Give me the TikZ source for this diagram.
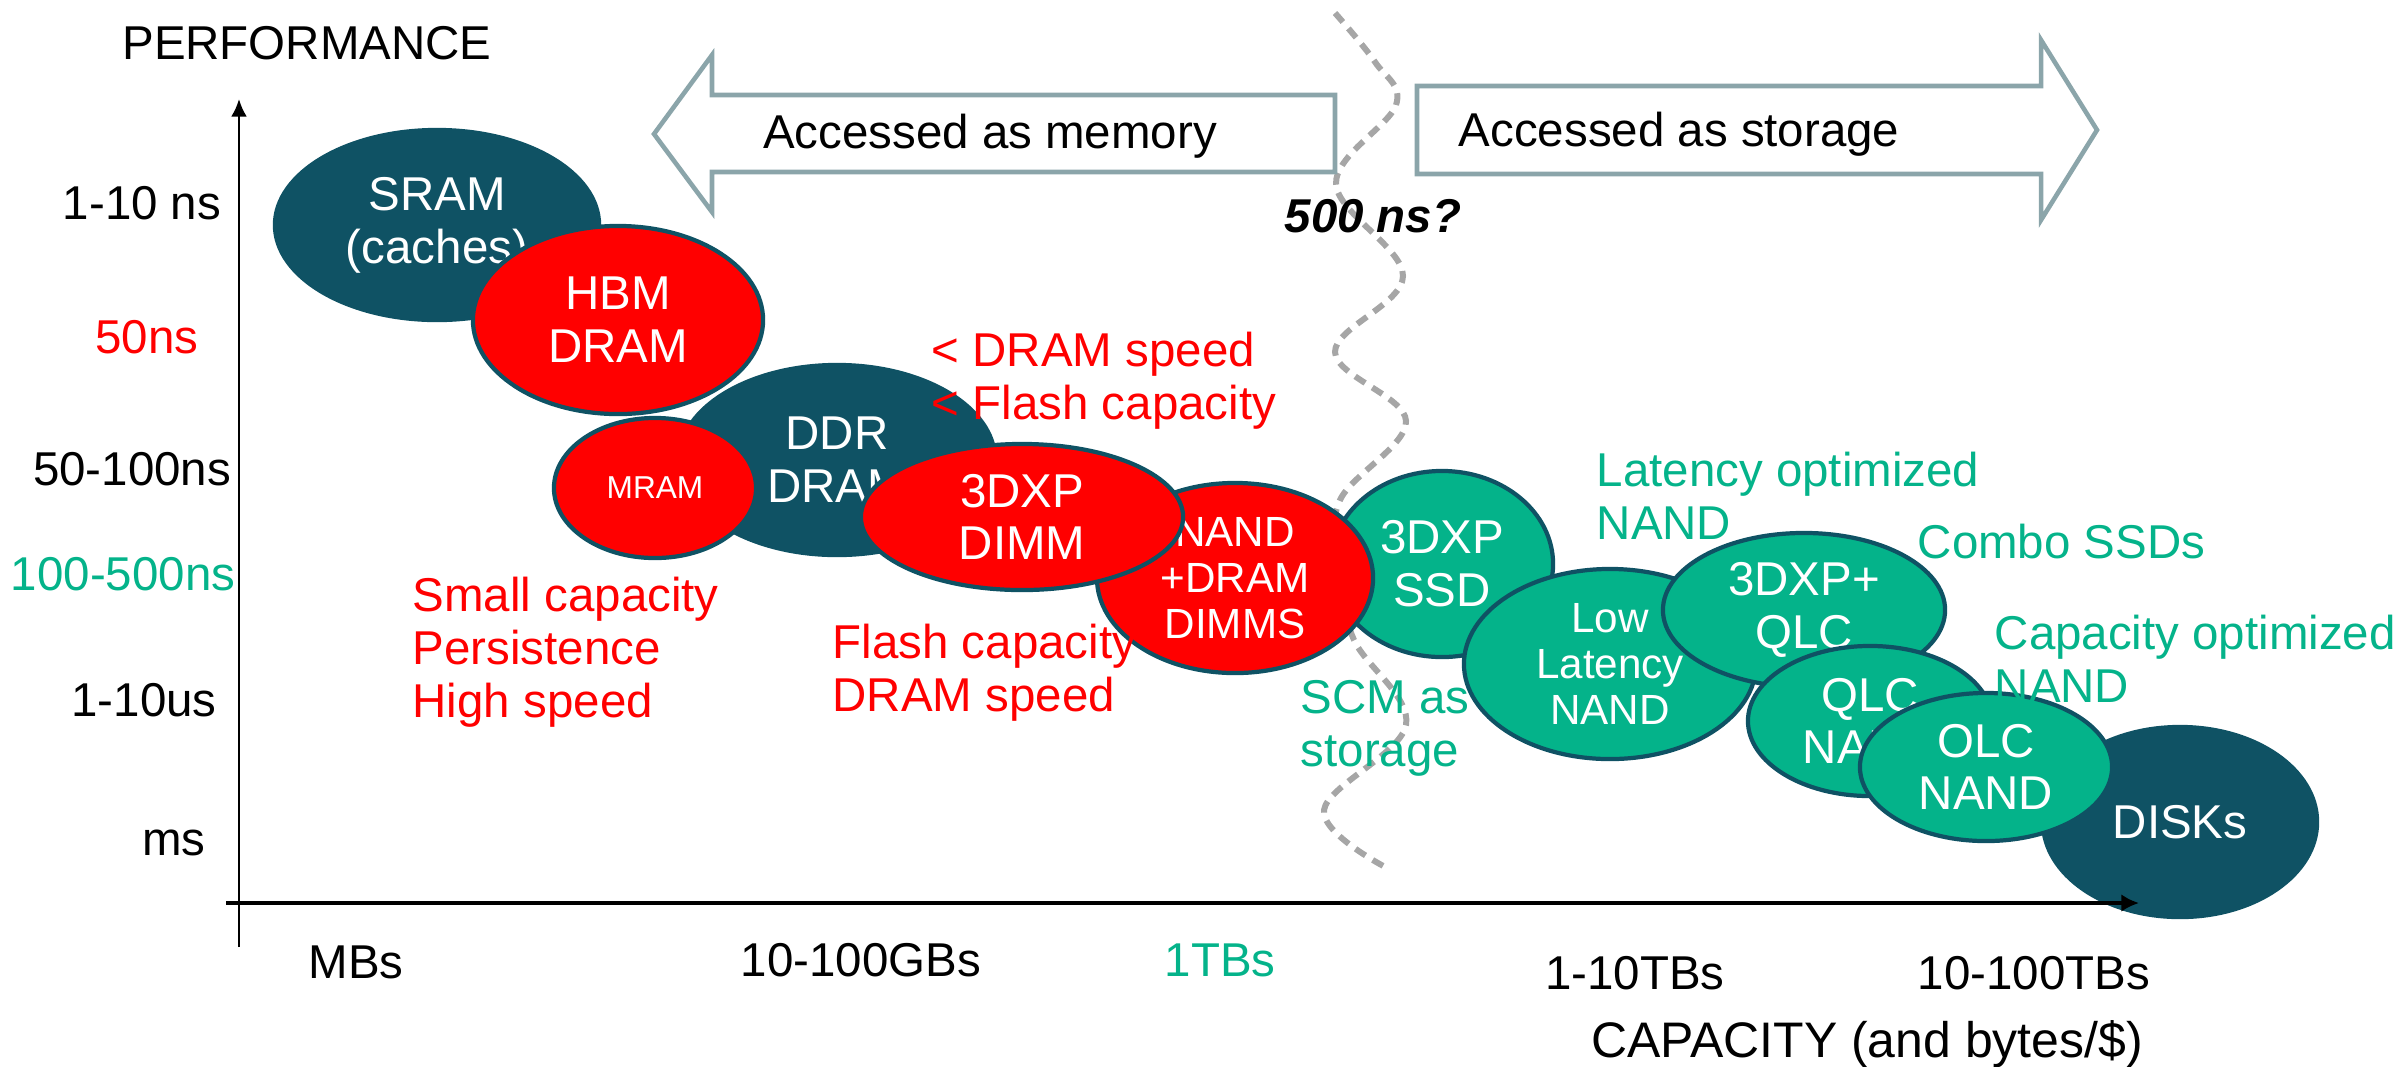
\documentclass[tikz,border=0pt]{standalone}
\usepackage{fontspec}
\setmainfont{Liberation Sans}
\usepackage{tikz}
\usetikzlibrary{shapes.geometric}
\usetikzlibrary{arrows.meta}
\definecolor{hpeteal}{HTML}{0F5264}
\definecolor{hpegreen}{HTML}{04B38A}
\definecolor{hpered}{HTML}{FF0000}
\definecolor{arrowgray}{HTML}{8BA5AA}
\definecolor{wavegray}{HTML}{A6A6A6}

\begin{document}
\begin{tikzpicture}[x=0.01cm, y=-0.01cm,
    font=\fontsize{13.5}{15}\selectfont,
    blob/.style={ellipse, draw=hpeteal, line width=1.2pt, text=white, align=center, inner sep=0pt},
    tealblob/.style={blob, fill=hpeteal},
    redblob/.style={blob, fill=hpered},
    greenblob/.style={blob, fill=hpegreen},
    note/.style={anchor=west, align=left, inner sep=0pt},
    tick/.style={inner sep=0pt}]

      \useasboundingbox (0,0) rectangle (2407,1066);

      \draw[wavegray, line width=1.7pt, dash pattern=on 3.4pt off 2.4pt]
        plot[smooth, tension=0.6] coordinates {(1335,13) (1375,62) (1396,105) (1336,184) (1403,276) (1335,352) (1406,421) (1340,500) (1338,570) (1354,640) (1406,725) (1324,810) (1387,868)};

      \draw[arrowgray, line width=1.3pt, fill=white] (1335,95) -- (712,95) -- (712,55) -- (654,134) -- (712,212) -- (712,172) -- (1335,172) -- cycle;
      \draw[arrowgray, line width=1.3pt, fill=white] (1417,86) -- (2041,86) -- (2041,40) -- (2097,130) -- (2041,220) -- (2041,174) -- (1417,174) -- cycle;
      \node[tick]                (memory) at (990,136)        {Accessed as memory};
      \node[tick, anchor=west]   (storage) at (1458,134)      {Accessed as storage};
      \node[tick, font=\fontsize{13.5}{15}\selectfont\bfseries\itshape] (limit) at (1373,216) {500 ns?};

      \node[tealblob, minimum width=3.24cm, minimum height=1.9cm]   (sram) at (437,225)     {SRAM\\(caches)};
      \node[redblob, minimum width=2.9cm, minimum height=1.88cm]    (hbm) at (618,320)      {HBM\\DRAM};
      \node[tealblob, minimum width=3.16cm, minimum height=1.9cm]   (ddr) at (837,460)      {DDR\\DRAM};
      \node[redblob, minimum width=2.02cm, minimum height=1.4cm, font=\fontsize{9}{10}\selectfont] (mram) at (655,488) {MRAM};
      \node[greenblob, minimum width=2.22cm, minimum height=1.86cm] (xpssd) at (1442,564)   {3DXP\\SSD};
      \node[redblob, minimum width=2.76cm, minimum height=1.9cm, font=\fontsize{12}{13}\selectfont] (nvdimm) at (1235,578) {NAND\\+DRAM\\DIMMS};
      \node[redblob, minimum width=3.22cm, minimum height=1.46cm]   (xpdimm) at (1022,517)  {3DXP\\DIMM};
      \node[greenblob, minimum width=2.92cm, minimum height=1.9cm, font=\fontsize{12}{13}\selectfont] (lowlat) at (1610,664) {Low\\Latency\\NAND};
      \node[greenblob, minimum width=2.82cm, minimum height=1.54cm] (combo) at (1804,610)   {3DXP+\\QLC};
      \node[greenblob, minimum width=2.44cm, minimum height=1.5cm]  (qlc) at (1870,721)     {QLC\\NAND};
      \node[tealblob, minimum width=2.74cm, minimum height=1.9cm]   (disks) at (2180,822)   {DISKs};
      \node[greenblob, minimum width=2.52cm, minimum height=1.48cm] (olc) at (1986,767)     {OLC\\NAND};

      \node[note, text=hpered]   (slower) at (931,381)        {< DRAM speed\\< Flash capacity};
      \node[note, text=hpered]   (mramnote) at (412,652)      {Small capacity\\Persistence\\High speed};
      \node[note, text=hpered]   (dimmnote) at (832,673)      {Flash capacity\\DRAM speed};
      \node[note, text=hpegreen] (latnote) at (1596,496)      {Latency optimized\\NAND};
      \node[note, text=hpegreen] (combonote) at (1917,542)    {Combo SSDs};
      \node[note, text=hpegreen] (capnote) at (1994,659)      {Capacity optimized\\NAND};
      \node[note, text=hpegreen] (scmnote) at (1300,728)      {SCM as\\storage};

      \node[tick]                (perf) at (307,43)           {PERFORMANCE};
      \node[tick]                (t1ns) at (142,203)          {1-10 ns};
      \node[tick, text=hpered]   (t50ns) at (147,337)         {50ns};
      \node[tick]                (t100ns) at (132,469)        {50-100ns};
      \node[tick, text=hpegreen] (t500ns) at (123,574)        {100-500ns};
      \node[tick]                (t10us) at (144,700)         {1-10us};
      \node[tick]                (tms) at (174,843)           {ms};

      \node[tick]                (mbs) at (356,962)           {MBs};
      \node[tick]                (gbs) at (861,960)           {10-100GBs};
      \node[tick, text=hpegreen] (onetb) at (1220,960)        {1TBs};
      \node[tick]                (tbs) at (1635,973)          {1-10TBs};
      \node[tick]                (bigtbs) at (2034,973)       {10-100TBs};
      \node[tick, font=\fontsize{14.2}{16}\selectfont] (capacity) at (1867,1044) {CAPACITY (and bytes/\$)};

      \coordinate (ybot) at (239,947);
      \coordinate (ytop) at (239,99);
      \coordinate (xleft) at (226,903);
      \coordinate (xright) at (2139,903);
      \draw[line width=0.7pt, -{Latex[length=5pt,width=4.5pt]}] (ybot) -- (ytop);
      \draw[line width=1.2pt, -{Latex[length=5pt,width=5pt]}] (xleft) -- (xright);
    \end{tikzpicture}
\end{document}
